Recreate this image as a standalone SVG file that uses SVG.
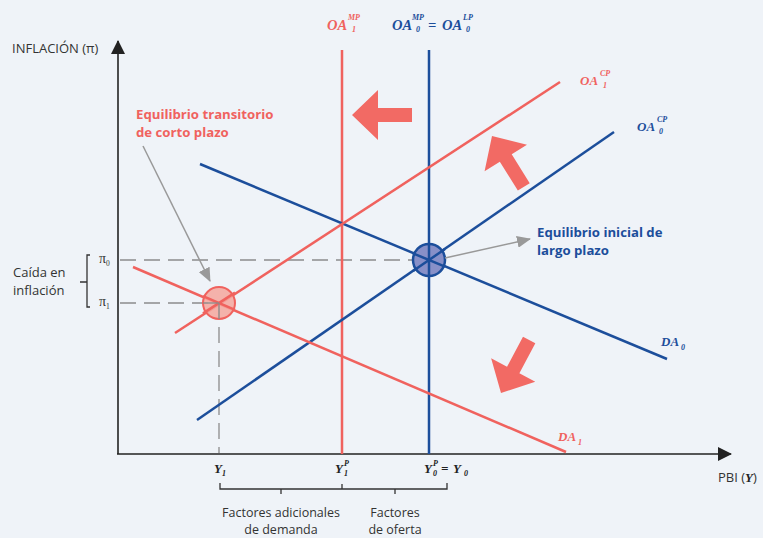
<svg xmlns="http://www.w3.org/2000/svg" width="763" height="538" viewBox="0 0 763 538">
<defs>
<style>
.axis{stroke:#222;stroke-width:1.6;fill:none}
.red{stroke:#F0625E;stroke-width:2.5;fill:none}
.blue{stroke:#1C4E9B;stroke-width:2.5;fill:none}
.dash{stroke:#8C8C8C;stroke-width:1.3;stroke-dasharray:16 8;fill:none}
.gray{stroke:#999;stroke-width:1.5;fill:none}
.brk{stroke:#333;stroke-width:1.3;fill:none}
.sans{font-family:"Open Sans","Liberation Sans",sans-serif;font-size:13px;fill:#333}
.foot{font-family:"Open Sans","Liberation Sans",sans-serif;font-size:12.5px;fill:#333}
.lblR{font-family:"Open Sans","Liberation Sans",sans-serif;font-size:13.2px;font-weight:bold;fill:#F0625E}
.lblB{font-family:"Open Sans","Liberation Sans",sans-serif;font-size:13.2px;font-weight:bold;fill:#1C4E9B}
.m{font-family:"Liberation Serif","Times New Roman",serif;font-weight:bold;font-style:italic}
.mr{fill:#F0625E}
.mb{fill:#1C4E9B}
.mk{fill:#222}
.big{font-size:14.5px}
.mid{font-size:13px}
.sm{font-size:8px}
.pi{font-family:"Liberation Serif","Times New Roman",serif;font-size:14px;fill:#333}
.arr{fill:#F26A64}
</style>
<marker id="ga" viewBox="0 0 14 12" refX="13" refY="6" markerWidth="14" markerHeight="12" markerUnits="userSpaceOnUse" orient="auto">
<path d="M0,0 L14,6 L0,12 Z" fill="#999"/>
</marker>
<marker id="ax" viewBox="0 0 14 14" refX="13" refY="7" markerWidth="14" markerHeight="14" markerUnits="userSpaceOnUse" orient="auto">
<path d="M0,0 L14,7 L0,14 Z" fill="#222"/>
</marker>
<path id="bigarrow" d="M0,0 L26,-25 L26,-7 L60,-7 L60,7 L26,7 L26,25 Z"/>
</defs>
<rect width="763" height="538" fill="#EFF3F8"/>

<g id="axes">
<line class="axis" x1="118" y1="454" x2="118" y2="41" marker-end="url(#ax)"/>
<line class="axis" x1="117" y1="454" x2="731" y2="454" marker-end="url(#ax)"/>
<text class="sans" x="12" y="53">INFLACIÓN (π)</text>
<text class="sans" x="718" y="482">PBI (<tspan class="m mk">Y</tspan>)</text>
</g>

<g id="guides">
<line class="dash" x1="120" y1="260" x2="429" y2="260"/>
<line class="dash" x1="120" y1="303" x2="219" y2="303"/>
<line class="dash" x1="219" y1="303" x2="219" y2="453"/>
</g>

<g id="curves">
<line id="oa1mp" class="red" x1="342" y1="50" x2="342" y2="454"/>
<line id="oa0mp" class="blue" x1="429" y1="50" x2="429" y2="454"/>
<line id="oa0cp" class="blue" x1="197" y1="420" x2="614" y2="132"/>
<line id="da0" class="blue" x1="200" y1="164" x2="667" y2="359"/>
<line id="oa1cp" class="red" x1="175" y1="333" x2="560" y2="82"/>
<line id="da1" class="red" x1="133" y1="267" x2="566" y2="452"/>
</g>

<g id="eq-corto">
<circle cx="219" cy="303" r="16" fill="#F5A69D" fill-opacity="0.85" stroke="#F0625E" stroke-width="2"/>
<line class="red" x1="203" y1="313.4" x2="235" y2="292.6" stroke-width="2"/>
<line class="red" x1="203" y1="296.2" x2="235" y2="309.8" stroke-width="2"/>
<line x1="219" y1="303" x2="219" y2="319" stroke="#8C8C8C" stroke-width="1.3"/>
<line x1="203" y1="303" x2="219" y2="303" stroke="#8C8C8C" stroke-width="1.3"/>
</g>
<g id="eq-largo">
<circle cx="429" cy="260" r="16" fill="#8890C8" stroke="#1C4E9B" stroke-width="2.5"/>
<line class="blue" x1="429" y1="244" x2="429" y2="276"/>
<line class="blue" x1="413" y1="271" x2="445" y2="249"/>
<line class="blue" x1="413" y1="253.3" x2="445" y2="266.7"/>
</g>

<g id="connectors">
<line class="gray" x1="143" y1="146" x2="210" y2="281" marker-end="url(#ga)"/>
<line class="gray" x1="445" y1="258" x2="530" y2="239" marker-end="url(#ga)"/>
</g>

<g id="shift-arrows">
<use href="#bigarrow" class="arr" transform="translate(352,115)"/>
<use href="#bigarrow" class="arr" transform="translate(492,136) rotate(58)"/>
<use href="#bigarrow" class="arr" transform="translate(501,393) rotate(-62)"/>
</g>

<g id="labels-curves">
<text class="m mr big" x="327" y="30">OA</text>
<text class="m mr sm" x="348" y="20">MP</text>
<text class="m mr sm" x="352" y="32">1</text>

<text class="m mb big" x="392" y="30">OA</text>
<text class="m mb sm" x="412" y="20">MP</text>
<text class="m mb sm" x="416" y="32">0</text>
<text class="m mb big" x="428" y="30">=</text>
<text class="m mb big" x="442" y="30">OA</text>
<text class="m mb sm" x="463" y="20">LP</text>
<text class="m mb sm" x="466" y="32">0</text>

<text class="m mr mid" x="580" y="85">OA</text>
<text class="m mr sm" x="600" y="76">CP</text>
<text class="m mr sm" x="603" y="88">1</text>

<text class="m mb mid" x="637" y="131">OA</text>
<text class="m mb sm" x="657" y="122">CP</text>
<text class="m mb sm" x="659" y="134">0</text>

<text class="m mb mid" x="661" y="346">DA</text>
<text class="m mb sm" x="681" y="350">0</text>

<text class="m mr mid" x="558" y="441">DA</text>
<text class="m mr sm" x="578" y="445">1</text>
</g>

<g id="labels-axis">
<text class="m mk mid" x="214" y="473">Y</text>
<text class="m mk sm" x="222" y="476">1</text>
<text class="m mk mid" x="335" y="473">Y</text>
<text class="m mk sm" x="344" y="466">P</text>
<text class="m mk sm" x="344" y="476">1</text>
<text class="m mk mid" x="424" y="473">Y</text>
<text class="m mk sm" x="433" y="466">P</text>
<text class="m mk sm" x="433" y="476">0</text>
<text class="m mk mid" x="441" y="473">=</text>
<text class="m mk mid" x="453" y="473">Y</text>
<text class="m mk sm" x="464" y="476">0</text>

<text class="pi" x="99" y="263">π<tspan font-size="7.5" dy="3">0</tspan></text>
<text class="pi" x="99" y="306">π<tspan font-size="7.5" dy="3">1</tspan></text>
</g>

<g id="caida">
<path class="brk" d="M90,255 H87 V307 H90 M87,282 H80"/>
<text class="sans" x="13" y="277">Caída en</text>
<text class="sans" x="13" y="295">inflación</text>
</g>

<g id="factores">
<path class="brk" d="M220,483 V489 H447 V483 M342,489 V484 M281,489 V494 M395,489 V494"/>
<text class="foot" x="281" y="517" text-anchor="middle">Factores adicionales</text>
<text class="foot" x="281" y="534" text-anchor="middle">de demanda</text>
<text class="foot" x="395" y="517" text-anchor="middle">Factores</text>
<text class="foot" x="395" y="534" text-anchor="middle">de oferta</text>
</g>

<g id="eq-labels">
<text class="lblR" x="136" y="119">Equilibrio transitorio</text>
<text class="lblR" x="136" y="137">de corto plazo</text>
<text class="lblB" x="537" y="237">Equilibrio inicial de</text>
<text class="lblB" x="537" y="255">largo plazo</text>
</g>
</svg>
